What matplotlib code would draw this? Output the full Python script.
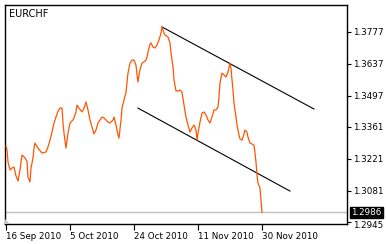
import matplotlib
matplotlib.use("Agg")
import matplotlib.pyplot as plt
from matplotlib.transforms import blended_transform_factory, ScaledTranslation
from matplotlib.patches import Polygon

symbol = "EURCHF"
bar_index = [0, 1, 2, 4, 6, 8, 10, 12, 14, 16, 19, 21, 22, 24, 25, 27, 28, 29, 32, 36,
             40, 42, 44, 46, 48, 50, 52, 54, 56, 57, 58, 60, 62, 64, 67, 68, 70, 71, 73, 76,
             78, 80, 82, 84, 86, 88, 90, 92, 94, 96, 98, 102, 104, 107, 108, 110, 112, 113, 115, 116,
             118, 120, 121, 122, 124, 126, 128, 130, 131, 132, 133, 134, 136, 138, 140, 141, 142, 144, 145, 147,
             149, 151, 153, 155, 156, 157, 158, 159, 162, 164, 165, 167, 168, 170, 172, 174, 176, 178, 180, 182,
             184, 186, 188, 190, 191, 192, 194, 196, 198, 200, 202, 204, 206, 208, 210, 212, 213, 214, 216, 218,
             220, 222, 224, 225, 226, 227, 228, 229, 230, 231, 233, 234, 236, 237, 239, 241, 242, 244, 246, 248,
             249, 250, 251, 252, 254, 255, 256]
close = [1.3276, 1.3259, 1.3206, 1.3171, 1.3180, 1.3184, 1.3145, 1.3123, 1.3171, 1.3237, 1.3224, 1.3210, 1.3140, 1.3119, 1.3180, 1.3224, 1.3267, 1.3289, 1.3267, 1.3245,
         1.3250, 1.3272, 1.3302, 1.3337, 1.3377, 1.3403, 1.3429, 1.3442, 1.3442, 1.3377, 1.3333, 1.3267, 1.3333, 1.3377, 1.3390, 1.3399, 1.3425, 1.3455, 1.3442, 1.3425,
         1.3442, 1.3469, 1.3434, 1.3390, 1.3359, 1.3329, 1.3346, 1.3377, 1.3390, 1.3403, 1.3399, 1.3381, 1.3377, 1.3390, 1.3403, 1.3368, 1.3324, 1.3311, 1.3390, 1.3442,
         1.3477, 1.3512, 1.3552, 1.3595, 1.3639, 1.3652, 1.3652, 1.3630, 1.3587, 1.3556, 1.3587, 1.3609, 1.3639, 1.3644, 1.3652, 1.3665, 1.3687, 1.3722, 1.3727, 1.3709,
         1.3705, 1.3718, 1.3740, 1.3770, 1.3797, 1.3784, 1.3770, 1.3762, 1.3753, 1.3727, 1.3683, 1.3622, 1.3565, 1.3517, 1.3517, 1.3521, 1.3512, 1.3455, 1.3403, 1.3368,
         1.3337, 1.3355, 1.3368, 1.3346, 1.3302, 1.3333, 1.3381, 1.3420, 1.3425, 1.3412, 1.3390, 1.3377, 1.3403, 1.3434, 1.3434, 1.3447, 1.3490, 1.3552, 1.3595, 1.3587,
         1.3578, 1.3600, 1.3639, 1.3617, 1.3565, 1.3521, 1.3464, 1.3434, 1.3403, 1.3368, 1.3324, 1.3307, 1.3302, 1.3315, 1.3346, 1.3337, 1.3315, 1.3289, 1.3285, 1.3280,
         1.3245, 1.3206, 1.3149, 1.3114, 1.3092, 1.3040, 1.2986]

upper_channel_x = [156, 308]
upper_channel_y = [1.3797, 1.3438]
lower_channel_x = [132, 284]
lower_channel_y = [1.3442, 1.3079]

last_price = 1.2986
price_ticks = [1.3777, 1.3637, 1.3497, 1.3361, 1.3221, 1.3081, 1.2945]
date_tick_pos = [0, 64, 128, 192, 256]
date_tick_labels = ["16 Sep 2010", "5 Oct 2010", "24 Oct 2010", "11 Nov 2010", "30 Nov 2010"]

W, H = 386, 244
fig = plt.figure(figsize=(W / 100, H / 100), dpi=100)
fig.patch.set_facecolor("white")
ax = fig.add_axes([5 / W, (H - 224) / H, (347 - 5) / W, (224 - 5) / H])
ax.set_facecolor("white")

ax.axhline(last_price, color="#c0c0c0", lw=1.0, zorder=1)
ax.plot(bar_index, close, color="#ff5500", lw=0.9, zorder=3)
ax.plot(upper_channel_x, upper_channel_y, color="black", lw=0.8, zorder=2)
ax.plot(lower_channel_x, lower_channel_y, color="black", lw=0.8, zorder=2)

ax.set_xlim(-1, 341)
ax.set_ylim(1.2935, 1.3893)

for s in ax.spines.values():
    s.set_color("black")
    s.set_linewidth(1.0)

ax.yaxis.tick_right()
ax.set_yticks(price_ticks)
ax.set_yticklabels([f"{v:.4f}" for v in price_ticks])
ax.tick_params(axis="y", direction="out", length=3, width=0.8, pad=1.5,
               labelsize=6.3, colors="black")
ax.set_xticks(date_tick_pos)
ax.set_xticklabels(date_tick_labels, ha="left")
ax.tick_params(axis="x", direction="out", length=4, width=0.8, pad=1.5,
               labelsize=6.3, colors="black")

# push the bottom price label below the current-price box
ylabs = ax.get_yticklabels()
ylabs[-1].set_transform(ylabs[-1].get_transform() +
                        ScaledTranslation(0, -3 / 100, fig.dpi_scale_trans))

ax.text(4 / 342, 1 - 9 / 219, symbol, transform=ax.transAxes, fontsize=7,
        ha="left", va="center", color="black")

trans = blended_transform_factory(ax.transAxes, ax.transData)
ax.text(1.0 + 4 / 342, last_price, f"{last_price:.4f}", transform=trans,
        fontsize=6.3, color="white", ha="left", va="center", zorder=5,
        bbox=dict(boxstyle="square,pad=0.15", fc="black", ec="black"), clip_on=False)

tri = Polygon([[0, 0], [0, 5 / 219], [5 / 342, 0]], closed=True,
              transform=ax.transAxes, fc="#c8c8c8", ec="none", zorder=4)
ax.add_patch(tri)

fig.savefig("out.png", dpi=100, facecolor="white")
